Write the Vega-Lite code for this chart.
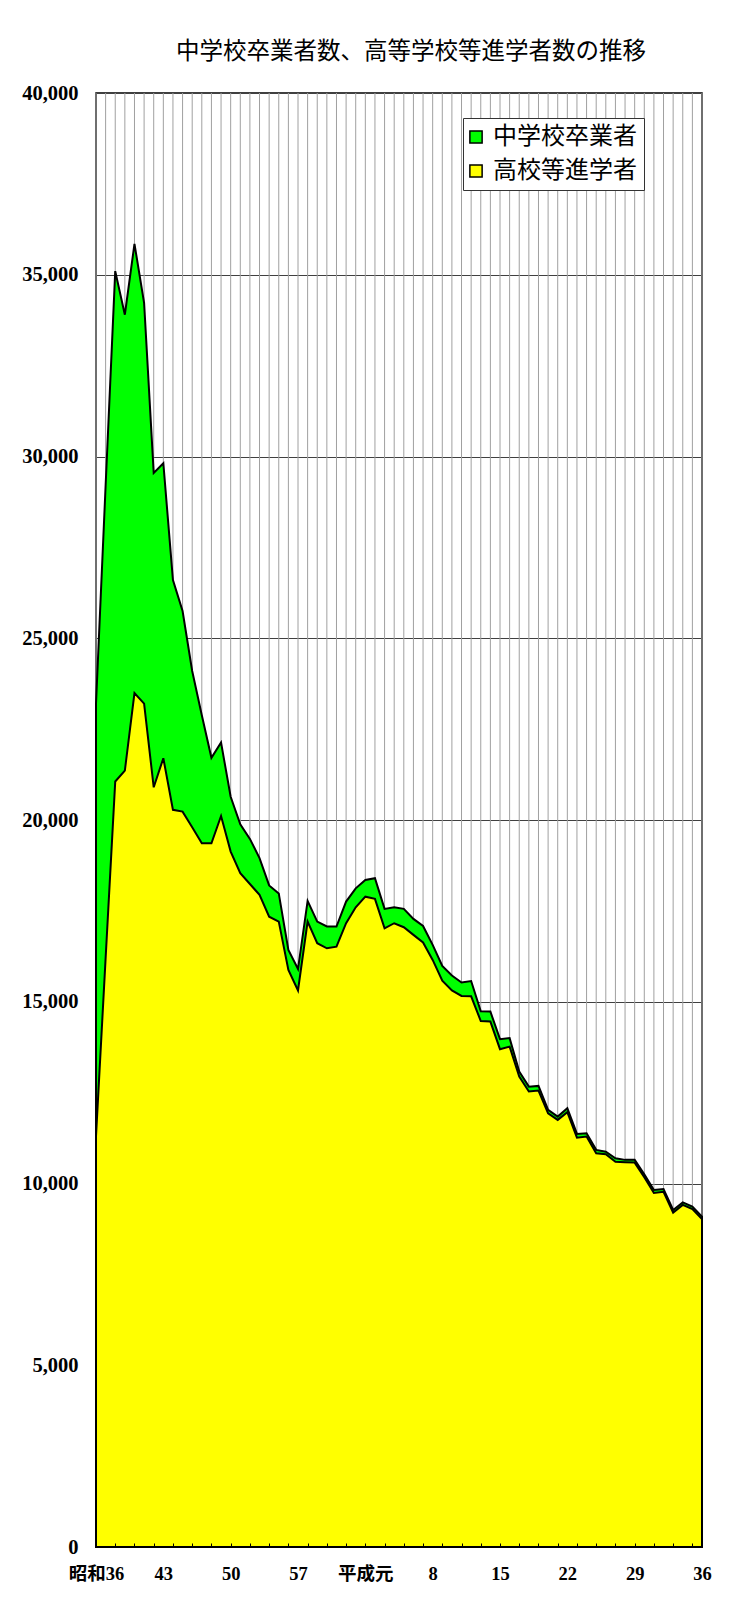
{
  "$schema": "https://vega.github.io/schema/vega-lite/v6.json",
  "width": 606,
  "height": 1454,
  "autosize": {"type": "none"},
  "padding": {"left": 96, "top": 93, "right": 29, "bottom": 58},
  "background": "white",
  "title": {
    "text": "中学校卒業者数、高等学校等進学者数の推移",
    "font": "Noto Sans CJK JP",
    "fontSize": 23.5,
    "fontWeight": "normal",
    "color": "black",
    "anchor": "middle",
    "frame": "group",
    "dx": 12,
    "offset": 20
  },
  "config": {"view": {"stroke": "black", "strokeWidth": 1.5}},
  "data": {
    "values": [
      {"year": 1961, "grad": 23200, "ent": 11300},
      {"year": 1962, "grad": 29200, "ent": 16200},
      {"year": 1963, "grad": 35100, "ent": 21060},
      {"year": 1964, "grad": 33900, "ent": 21360},
      {"year": 1965, "grad": 35850, "ent": 23490},
      {"year": 1966, "grad": 34230, "ent": 23200},
      {"year": 1967, "grad": 29550, "ent": 20900},
      {"year": 1968, "grad": 29815, "ent": 21700},
      {"year": 1969, "grad": 26600, "ent": 20280},
      {"year": 1970, "grad": 25750, "ent": 20230},
      {"year": 1971, "grad": 24100, "ent": 19800},
      {"year": 1972, "grad": 22880, "ent": 19360},
      {"year": 1973, "grad": 21710, "ent": 19360},
      {"year": 1974, "grad": 22130, "ent": 20110},
      {"year": 1975, "grad": 20640, "ent": 19130},
      {"year": 1976, "grad": 19880, "ent": 18535},
      {"year": 1977, "grad": 19480, "ent": 18240},
      {"year": 1978, "grad": 18950, "ent": 17940},
      {"year": 1979, "grad": 18200, "ent": 17340},
      {"year": 1980, "grad": 17980, "ent": 17205},
      {"year": 1981, "grad": 16425, "ent": 15875},
      {"year": 1982, "grad": 15900, "ent": 15310},
      {"year": 1983, "grad": 17775, "ent": 17205},
      {"year": 1984, "grad": 17205, "ent": 16610},
      {"year": 1985, "grad": 17070, "ent": 16470},
      {"year": 1986, "grad": 17070, "ent": 16515},
      {"year": 1987, "grad": 17755, "ent": 17160},
      {"year": 1988, "grad": 18120, "ent": 17600},
      {"year": 1989, "grad": 18350, "ent": 17890},
      {"year": 1990, "grad": 18400, "ent": 17830},
      {"year": 1991, "grad": 17555, "ent": 17020},
      {"year": 1992, "grad": 17600, "ent": 17160},
      {"year": 1993, "grad": 17555, "ent": 17050},
      {"year": 1994, "grad": 17280, "ent": 16840},
      {"year": 1995, "grad": 17085, "ent": 16630},
      {"year": 1996, "grad": 16565, "ent": 16150},
      {"year": 1997, "grad": 15985, "ent": 15580},
      {"year": 1998, "grad": 15720, "ent": 15310},
      {"year": 1999, "grad": 15530, "ent": 15160},
      {"year": 2000, "grad": 15570, "ent": 15150},
      {"year": 2001, "grad": 14740, "ent": 14470},
      {"year": 2002, "grad": 14730, "ent": 14455},
      {"year": 2003, "grad": 13970, "ent": 13695},
      {"year": 2004, "grad": 14000, "ent": 13765},
      {"year": 2005, "grad": 13080, "ent": 12940},
      {"year": 2006, "grad": 12665, "ent": 12530},
      {"year": 2007, "grad": 12685, "ent": 12555},
      {"year": 2008, "grad": 12025, "ent": 11930},
      {"year": 2009, "grad": 11840, "ent": 11750},
      {"year": 2010, "grad": 12070, "ent": 11960},
      {"year": 2011, "grad": 11365, "ent": 11260},
      {"year": 2012, "grad": 11380, "ent": 11290},
      {"year": 2013, "grad": 10925, "ent": 10830},
      {"year": 2014, "grad": 10875, "ent": 10805},
      {"year": 2015, "grad": 10695, "ent": 10600},
      {"year": 2016, "grad": 10650, "ent": 10585},
      {"year": 2017, "grad": 10650, "ent": 10575},
      {"year": 2018, "grad": 10250, "ent": 10170},
      {"year": 2019, "grad": 9820, "ent": 9740},
      {"year": 2020, "grad": 9850, "ent": 9770},
      {"year": 2021, "grad": 9270, "ent": 9200},
      {"year": 2022, "grad": 9480, "ent": 9410},
      {"year": 2023, "grad": 9365, "ent": 9295},
      {"year": 2024, "grad": 9090, "ent": 9020}
    ]
  },
  "encoding": {
    "x": {
      "field": "year",
      "type": "quantitative",
      "scale": {"domain": [1961, 2024], "nice": false, "zero": false},
      "axis": {
        "title": null,
        "values": [1961,1962,1963,1964,1965,1966,1967,1968,1969,1970,1971,1972,1973,1974,1975,1976,1977,1978,1979,1980,1981,1982,1983,1984,1985,1986,1987,1988,1989,1990,1991,1992,1993,1994,1995,1996,1997,1998,1999,2000,2001,2002,2003,2004,2005,2006,2007,2008,2009,2010,2011,2012,2013,2014,2015,2016,2017,2018,2019,2020,2021,2022,2023,2024],
        "labelExpr": "datum.value == 1961 ? '昭和36' : datum.value == 1989 ? '平成元' : ((datum.value - 1961) % 7 == 0 ? (datum.value < 1989 ? '' + (datum.value - 1925) : '' + (datum.value - 1988)) : '')",
        "grid": false,
        "domain": false,
        "zindex": 1,
        "tickSize": -4,
        "tickWidth": 1,
        "tickColor": {"condition": {"test": "datum.value % 2 == 1 && datum.value > 1961 && datum.value < 2024", "value": "black"}, "value": "transparent"},
        "labelFont": "Liberation Serif, Noto Sans CJK JP",
        "labelFontSize": 18.5,
        "labelFontWeight": "bold",
        "labelColor": "black",
        "labelPadding": 21,
        "labelOverlap": false,
        "labelFlush": false
      }
    }
  },
  "layer": [
    {
      "mark": {"type": "rule", "color": "#a0a0a0", "strokeWidth": 1}
    },
    {
      "mark": {"type": "area", "stroke": "black", "strokeWidth": 2, "opacity": 1, "strokeJoin": "miter"},
      "encoding": {
        "y": {
          "field": "grad",
          "type": "quantitative",
          "scale": {"domain": [0, 40000], "nice": false},
          "axis": {
            "title": null,
            "values": [0, 5000, 10000, 15000, 20000, 25000, 30000, 35000, 40000],
            "format": ",.0f",
            "grid": true,
            "gridColor": "#404040",
            "gridWidth": 1,
            "ticks": false,
            "domain": false,
            "labelPadding": 18,
            "labelFont": "Liberation Serif",
            "labelFontSize": 20.5,
            "labelFontWeight": "bold",
            "labelColor": "black"
          }
        },
        "color": {
          "datum": "中学校卒業者",
          "scale": {"domain": ["中学校卒業者", "高校等進学者"], "range": ["#00ff00", "#ffff00"]},
          "legend": {
            "title": null,
            "orient": "none",
            "legendX": 367,
            "legendY": 25,
            "fillColor": "white",
            "strokeColor": "#333333",
            "padding": 7,
            "labelFont": "Noto Sans CJK JP",
            "labelFontSize": 24,
            "labelColor": "black",
            "labelOffset": 5,
            "labelLimit": 300,
            "rowPadding": 10,
            "symbolOffset": -6,
            "symbolType": "square",
            "symbolSize": 150,
            "symbolStrokeColor": "black",
            "symbolStrokeWidth": 1.5
          }
        }
      }
    },
    {
      "mark": {"type": "area", "stroke": "black", "strokeWidth": 2, "opacity": 1, "strokeJoin": "miter"},
      "encoding": {
        "y": {"field": "ent", "type": "quantitative"},
        "color": {"datum": "高校等進学者"}
      }
    }
  ]
}
